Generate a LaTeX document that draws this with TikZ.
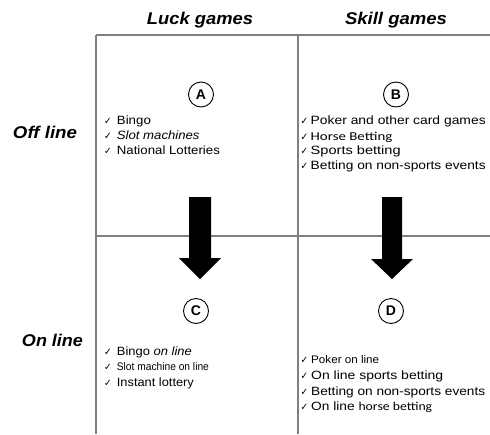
\documentclass[tikz,border=0pt]{standalone}
\usepackage{fontspec}
\usepackage{graphicx}
\setmainfont{Liberation Sans}
\newfontfamily\calfont{Carlito}
\newfontfamily\symfont{DejaVu Sans}
\newcommand{\fitw}[2]{\resizebox{#1}{\height}{#2}}
\newcommand{\ck}{\resizebox{7.5pt}{\height}{\symfont ✓}}
\begin{document}
\begin{tikzpicture}[x=1pt,y=-1pt,
  gridline/.style={draw=black!50, line width=1.1pt},
  item/.style={anchor=mid west, inner sep=0pt, font=\fontsize{12}{14}\selectfont},
  smallitem/.style={item, font=\fontsize{11}{13}\selectfont},
  tick/.style={anchor=mid west, inner sep=0pt, font=\fontsize{10}{12}\selectfont},
  head/.style={inner sep=0pt, font=\fontsize{17}{19}\selectfont\bfseries\itshape},
  badge/.style={draw, circle, line width=0.9pt, minimum size=25pt, inner sep=0pt, font=\fontsize{14}{16}\selectfont\bfseries},
  bigarrow/.style={fill=black}]
\useasboundingbox (0,0) rectangle (490,434);
% grid
\coordinate (tl) at (96,35);
\coordinate (tr) at (490,35);
\coordinate (ml) at (96,236);
\coordinate (mr) at (490,236);
\coordinate (tm) at (298,35);
\coordinate (bl) at (96,434);
\coordinate (bm) at (298,434);
\draw[gridline] (tl) -- (tr);
\draw[gridline] (ml) -- (mr);
\draw[gridline] (tl) -- (bl);
\draw[gridline] (tm) -- (bm);
% headers
\node[head] (hluck) at (200,20) {\fitw{106pt}{Luck games}};
\node[head] (hskill) at (396,20) {\fitw{102pt}{Skill games}};
\node[head] (hoff) at (45,132) {\fitw{64pt}{Off line}};
\node[head] (hon) at (52.5,340) {\fitw{61pt}{On line}};
% badges
\node[badge] (A) at (201,94.5) {A};
\node[badge] (B) at (396,94.5) {B};
\node[badge] (C) at (196,311) {C};
\node[badge] (D) at (391,311) {D};
% arrows
\fill[bigarrow] (189,197) -- (211,197) -- (211,258) -- (221,258) -- (200,279) -- (179,258) -- (189,258) -- cycle;
\fill[bigarrow] (382,197) -- (402,197) -- (402,259) -- (413,259) -- (392,279) -- (371,259) -- (382,259) -- cycle;
% list A
\node[tick] (ka1) at (104,122) {\ck};
\node[item] (a1) at (116.7,122) {\fitw{34pt}{Bingo}};
\node[tick] (ka2) at (104,137) {\ck};
\node[item] (a2) at (116.7,137) {\fitw{82.7pt}{\itshape Slot machines}};
\node[tick] (ka3) at (104,152) {\ck};
\node[item] (a3) at (116.7,152) {\fitw{103pt}{National Lotteries}};
% list B
\node[tick] (kb1) at (300.5,122) {\ck};
\node[item] (b1) at (310.5,122) {\fitw{175pt}{Poker and other card games}};
\node[tick] (kb2) at (300.5,137.5) {\ck};
\node[item] (b2) at (310.5,137.5) {\fitw{81.7pt}{\calfont Horse Betting}};
\node[tick] (kb3) at (300.5,152) {\ck};
\node[item] (b3) at (310.5,152) {\fitw{90pt}{Sports betting}};
\node[tick] (kb4) at (300.5,167) {\ck};
\node[item] (b4) at (310.5,167) {\fitw{175pt}{Betting on non-sports events}};
% list C
\node[tick] (kc1) at (104,353) {\ck};
\node[item] (c1) at (116.7,353) {\fitw{75pt}{Bingo \textit{on line}}};
\node[tick] (kc2) at (104,368) {\ck};
\node[smallitem] (c2) at (116.7,368) {\fitw{92pt}{Slot machine on line}};
\node[tick] (kc3) at (104,384) {\ck};
\node[item] (c3) at (116.7,384) {\fitw{77pt}{Instant lottery}};
% list D
\node[tick] (kd1) at (300.5,361) {\ck};
\node[smallitem] (d1) at (311,361) {\fitw{68pt}{Poker on line}};
\node[tick] (kd2) at (300.5,377) {\ck};
\node[item] (d2) at (311,377) {\fitw{132pt}{On line sports betting}};
\node[tick] (kd3) at (300.5,393) {\ck};
\node[item] (d3) at (311,393) {\fitw{174pt}{Betting on non-sports events}};
\node[tick] (kd4) at (300.5,408) {\ck};
\node[item] (d4) at (311,408) {\fitw{121pt}{On line {\calfont horse betting}}};
\end{tikzpicture}
\end{document}
